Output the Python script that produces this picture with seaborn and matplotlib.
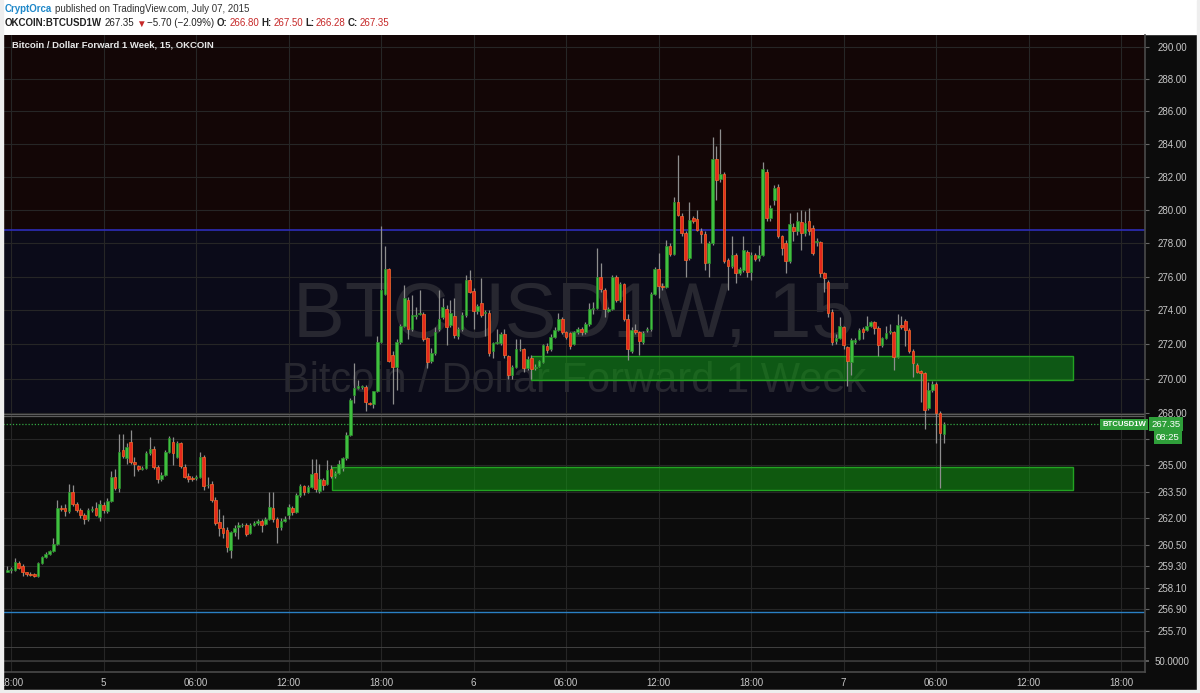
import numpy as np
import pandas as pd
import matplotlib
matplotlib.use("Agg")
import matplotlib.pyplot as plt
import matplotlib.transforms as mtransforms
from matplotlib.patches import Rectangle
from matplotlib.ticker import NullLocator, NullFormatter
import seaborn as sns

sns.set_theme(style="dark")
plt.rcParams["font.family"] = ["Liberation Sans", "DejaVu Sans"]

# ---------------- data (15-minute candles, first one at 2015-07-04 17:45) ----------------
first_candle = "2015-07-04 17:45"
opens = [
    259.0, 259.1, 259.1, 259.5, 259.3, 258.95, 258.85, 258.85, 258.75, 259.5,
    259.8, 260.0, 260.15, 260.55, 262.55, 262.55, 262.4, 263.5, 262.8, 262.45,
    262.2, 261.95, 262.45, 262.55, 262.05, 262.75, 262.4, 262.95, 264.35, 263.7,
    265.85, 265.4, 266.35, 265.2, 264.95, 264.8, 264.85, 265.7, 265.95, 264.9,
    264.2, 264.45, 265.75, 266.35, 265.5, 266.25, 264.9, 264.4, 264.3, 264.25,
    264.35, 265.5, 263.85, 263.95, 263.05, 261.8, 261.45, 261.35, 260.2, 261.2,
    261.5, 261.6, 261.6, 261.15, 261.6, 261.7, 261.85, 261.65, 261.95, 262.6,
    261.95, 261.5, 261.85, 262.15, 262.55, 262.35, 263.3, 263.8, 263.5, 263.75,
    264.55, 263.55, 264.15, 263.95, 264.8, 264.4, 264.55, 264.85, 265.4, 266.75,
    269.05, 269.45, 269.5, 269.5, 268.6, 268.55, 269.25, 272.15, 274.95, 276.45,
    271.4, 270.7, 272.15, 273.1, 274.6, 272.9, 273.65, 273.8, 273.8, 272.35,
    271.0, 271.5, 272.9, 273.6, 274.1, 273.15, 273.65, 272.5, 272.9, 273.7,
    275.8, 275.15, 273.95, 274.45, 273.85, 273.85, 271.6, 272.05, 272.1, 272.6,
    271.3, 270.2, 270.65, 271.7, 271.7, 270.6, 271.2, 270.6, 270.75, 270.95,
    271.9, 271.7, 272.45, 272.85, 273.5, 272.7, 272.65, 272.0, 272.7, 272.9,
    272.75, 273.2, 274.05, 274.15, 275.95, 275.2, 273.95, 274.1, 276.0, 274.6,
    275.55, 273.5, 271.6, 272.85, 272.7, 272.15, 272.85, 272.9, 274.95, 276.45,
    275.45, 275.4, 277.85, 277.35, 280.5, 279.65, 278.6, 277.1, 279.5, 279.45,
    278.7, 278.55, 276.8, 278.0, 283.1, 281.85, 282.2, 277.0, 276.65, 277.3,
    276.2, 276.4, 277.45, 276.25, 277.3, 277.1, 277.3, 282.3, 279.5, 280.6,
    281.4, 278.4, 278.0, 276.9, 278.95, 278.7, 279.25, 278.6, 279.3, 278.9,
    278.05, 278.05, 276.2, 275.7, 273.9, 272.2, 272.35, 273.0, 271.85, 270.95,
    272.15, 272.3, 272.9, 272.85, 273.1, 273.3, 272.95, 271.95, 272.35, 272.75,
    272.7, 271.25, 273.15, 273.35, 272.85, 271.6, 270.8, 270.45, 270.3, 268.3,
    269.35, 269.7, 268.0, 266.80,
]
highs = [
    259.3, 259.25, 259.75, 259.6, 259.4, 259.0, 258.95, 258.9, 259.55, 259.85,
    260.1, 260.2, 260.9, 263.0, 262.75, 262.8, 263.95, 263.9, 262.9, 262.55,
    262.3, 262.6, 262.7, 262.9, 263.0, 262.9, 263.15, 264.7, 264.8, 266.8,
    266.8, 266.3, 267.0, 265.5, 265.0, 264.95, 265.8, 266.6, 266.1, 265.0,
    264.6, 265.9, 266.7, 266.6, 266.4, 266.35, 265.1, 264.55, 264.4, 264.45,
    265.75, 265.6, 264.35, 264.1, 263.2, 262.5, 262.2, 261.5, 261.3, 261.6,
    261.8, 261.7, 261.7, 261.7, 261.85, 261.95, 261.95, 262.05, 263.5, 263.5,
    262.05, 262.0, 262.1, 262.8, 262.7, 263.4, 263.95, 263.9, 263.85, 265.35,
    265.35, 265.1, 264.3, 265.3, 265.0, 264.65, 265.3, 265.5, 266.9, 268.9,
    270.9, 269.9, 269.6, 269.6, 268.65, 269.3, 272.5, 279.0, 277.8, 276.5,
    271.6, 272.3, 273.2, 275.5, 274.8, 274.9, 274.2, 275.2, 273.9, 272.45,
    271.8, 273.0, 275.2, 274.7, 274.3, 274.6, 274.7, 273.0, 273.9, 276.1,
    276.4, 275.3, 274.4, 275.9, 274.0, 274.0, 272.15, 272.9, 272.7, 272.9,
    271.4, 270.8, 272.3, 272.3, 271.8, 271.3, 271.35, 270.85, 271.1, 272.0,
    272.05, 272.6, 273.0, 273.85, 273.6, 272.8, 272.75, 272.8, 273.0, 273.0,
    273.3, 274.45, 274.5, 277.7, 276.8, 275.3, 274.2, 276.1, 276.1, 275.65,
    275.6, 273.8, 273.0, 273.2, 272.8, 272.8, 273.0, 275.1, 276.6, 277.4,
    275.6, 278.2, 278.0, 280.8, 283.3, 279.8, 278.7, 280.5, 279.6, 280.0,
    278.9, 278.7, 278.1, 284.45, 283.9, 284.9, 282.3, 277.1, 278.4, 277.4,
    276.6, 278.4, 277.6, 277.45, 277.4, 277.9, 282.9, 282.5, 280.3, 281.5,
    281.55, 278.5, 278.2, 279.8, 279.2, 279.85, 280.0, 279.9, 280.1, 279.1,
    278.3, 278.15, 276.3, 275.8, 274.05, 272.6, 273.6, 273.1, 271.9, 272.35,
    272.4, 272.95, 273.0, 273.65, 273.4, 273.4, 273.05, 272.45, 273.1, 273.2,
    272.8, 273.8, 273.65, 273.5, 272.95, 271.7, 270.9, 270.5, 270.4, 269.8,
    269.85, 269.8, 268.1, 267.50,
]
lows = [
    258.95, 258.9, 259.05, 259.15, 258.75, 258.75, 258.75, 258.7, 258.7, 259.45,
    259.75, 259.95, 260.1, 260.5, 262.4, 262.1, 262.3, 262.7, 262.35, 262.0,
    261.65, 261.85, 262.35, 262.1, 261.85, 262.3, 262.3, 262.9, 263.6, 263.5,
    265.4, 265.1, 265.1, 264.4, 264.7, 264.75, 264.8, 265.6, 264.8, 264.0,
    264.1, 264.4, 265.7, 265.0, 265.4, 264.85, 264.25, 264.05, 264.1, 264.15,
    264.3, 263.6, 263.7, 262.9, 261.6, 261.0, 260.9, 260.1, 259.75, 261.0,
    260.8, 261.5, 261.0, 261.1, 261.55, 261.6, 261.2, 261.6, 261.9, 261.8,
    260.6, 261.35, 261.8, 261.95, 262.2, 262.3, 263.2, 263.3, 263.45, 263.7,
    263.5, 263.4, 263.6, 263.9, 264.3, 264.3, 264.5, 264.7, 265.3, 266.7,
    268.6, 269.4, 269.4, 268.1, 268.45, 268.3, 269.2, 272.1, 274.9, 270.95,
    268.55, 269.35, 272.0, 273.0, 272.3, 272.8, 273.5, 273.7, 272.2, 270.6,
    270.9, 271.4, 272.8, 273.5, 271.95, 273.0, 272.4, 272.3, 272.8, 273.6,
    275.0, 272.9, 273.8, 273.6, 272.5, 271.3, 271.2, 272.0, 271.95, 271.2,
    269.95, 270.0, 270.6, 271.6, 270.4, 270.5, 269.95, 270.5, 270.7, 270.9,
    271.5, 271.6, 272.4, 272.8, 272.6, 272.3, 271.7, 271.95, 272.6, 272.55,
    272.6, 273.1, 273.8, 274.1, 275.1, 273.6, 273.9, 274.0, 274.5, 274.5,
    273.4, 271.1, 271.5, 272.6, 271.4, 272.0, 272.75, 272.8, 274.9, 274.7,
    275.2, 275.3, 277.2, 277.3, 279.6, 278.4, 276.0, 277.0, 279.2, 278.7,
    278.0, 276.4, 276.0, 277.9, 280.6, 281.7, 276.8, 275.2, 276.5, 275.6,
    276.1, 276.3, 276.0, 275.8, 276.95, 276.9, 277.2, 279.3, 279.3, 280.3,
    278.3, 277.3, 276.2, 276.8, 278.1, 278.5, 277.6, 278.4, 278.5, 277.3,
    277.8, 276.0, 275.1, 273.6, 271.95, 272.0, 272.3, 271.7, 269.55, 270.2,
    272.0, 272.25, 272.3, 272.8, 273.0, 272.6, 271.3, 271.85, 272.3, 272.6,
    270.5, 271.2, 272.9, 271.9, 271.5, 270.1, 270.3, 268.65, 267.1, 268.2,
    269.2, 266.3, 263.7, 266.28,
]
closes = [
    259.1, 259.1, 259.55, 259.2, 258.95, 258.85, 258.8, 258.75, 259.5, 259.8,
    260.0, 260.15, 260.55, 262.55, 262.5, 262.4, 263.5, 262.8, 262.45, 262.2,
    261.95, 262.45, 262.5, 262.2, 262.8, 262.45, 262.95, 264.35, 263.7, 265.75,
    265.55, 266.05, 265.2, 265.1, 264.8, 264.85, 265.7, 265.95, 264.9, 264.2,
    264.45, 265.75, 266.55, 265.7, 266.25, 264.95, 264.35, 264.2, 264.2, 264.35,
    265.5, 263.8, 263.9, 263.05, 261.75, 261.45, 261.15, 260.35, 261.2, 261.45,
    261.6, 261.62, 261.1, 261.6, 261.7, 261.85, 261.6, 261.95, 262.65, 261.95,
    261.5, 261.85, 261.95, 262.65, 262.35, 263.3, 263.8, 263.5, 263.75, 264.5,
    263.65, 264.2, 263.9, 264.75, 264.4, 264.55, 265.05, 265.4, 266.75, 268.75,
    269.45, 269.55, 269.52, 268.65, 268.55, 269.25, 272.15, 275.2, 276.45, 271.05,
    270.7, 272.15, 273.05, 274.7, 272.9, 273.7, 273.75, 273.8, 272.3, 270.95,
    271.5, 272.75, 273.5, 274.2, 273.0, 273.85, 272.55, 272.9, 273.7, 275.8,
    275.1, 273.95, 274.25, 273.75, 273.9, 271.5, 272.05, 272.15, 272.6, 271.4,
    270.2, 270.65, 271.7, 271.75, 270.6, 271.15, 270.55, 270.7, 271.0, 271.95,
    271.65, 272.45, 272.85, 273.5, 272.7, 272.45, 271.9, 272.7, 272.9, 272.7,
    273.2, 274.1, 274.15, 276.0, 275.25, 274.05, 274.1, 276.0, 274.6, 275.55,
    273.5, 271.75, 272.85, 272.7, 272.2, 272.65, 272.9, 274.95, 276.45, 275.45,
    275.4, 277.85, 277.35, 280.5, 279.7, 278.6, 277.0, 279.4, 279.35, 278.8,
    278.55, 276.8, 278.0, 283.1, 281.8, 282.2, 276.95, 276.65, 277.3, 276.2,
    276.45, 277.6, 276.3, 277.3, 277.05, 277.3, 282.5, 279.5, 280.1, 281.35,
    278.4, 277.7, 276.9, 279.15, 278.75, 279.3, 278.6, 279.2, 278.7, 277.4,
    278.15, 276.2, 275.9, 273.85, 272.15, 272.35, 273.05, 271.95, 271.0, 272.25,
    272.25, 272.85, 272.75, 273.1, 273.3, 272.95, 271.95, 272.35, 272.65, 272.8,
    271.25, 273.15, 273.0, 272.85, 271.6, 270.9, 270.4, 270.3, 268.2, 269.35,
    269.7, 268.0, 266.85, 267.35,
]

price_ticks = [290.00, 288.00, 286.00, 284.00, 282.00, 280.00, 278.00, 276.00, 274.00,
               272.00, 270.00, 268.00, 266.50, 265.00, 263.50, 262.00, 260.50, 259.30,
               258.10, 256.90, 255.70]
hidden_price_labels = [266.50]   # covered by the countdown box in the reference
time_ticks = ["2015-07-04 18:00", "2015-07-05 00:00", "2015-07-05 06:00", "2015-07-05 12:00",
              "2015-07-05 18:00", "2015-07-06 00:00", "2015-07-06 06:00", "2015-07-06 12:00",
              "2015-07-06 18:00", "2015-07-07 00:00", "2015-07-07 06:00", "2015-07-07 12:00",
              "2015-07-07 18:00"]
time_labels = ["18:00", "5", "06:00", "12:00", "18:00", "6", "06:00", "12:00", "18:00",
               "7", "06:00", "12:00", "18:00"]

# drawn levels / zones (prices) and their start / end times
upper_zone_prices = [269.9, 271.3]
upper_zone_start = "2015-07-06 03:45"
lower_zone_prices = [263.6, 264.9]
lower_zone_start = "2015-07-05 14:50"
zones_end = "2015-07-07 14:54"
resistance_level = 278.79
support_level = 256.75
band_levels = [267.97, 267.82]
oscillator_level = 50.0

# ---------------- figure ----------------
W, H = 1200, 693
fig = plt.figure(figsize=(W / 100, H / 100), dpi=100, facecolor="#0c0c0c")


def fx(px):
    return px / W


def fy(py):
    return 1 - py / H


ax = fig.add_axes([fx(3), fy(648), fx(1145) - fx(3), fy(35) - fy(648)])
ax2 = fig.add_axes([fx(3), fy(672), fx(1145) - fx(3), fy(648) - fy(672)], sharex=ax)

t_ref = pd.Timestamp("2015-07-04 18:00")
step = pd.Timedelta("15min")
times = pd.date_range(first_candle, periods=len(closes), freq="15min")
df = pd.DataFrame({"time": times, "open": opens, "high": highs, "low": lows, "close": closes})
df["x"] = (df["time"] - t_ref) / step


def tx(s):
    return (pd.Timestamp(s) - t_ref) / step


for a in (ax, ax2):
    a.set_facecolor("#0c0c0c")
    a.set_axisbelow(True)
    a.grid(True, color="#262626", lw=0.8)
    for s in ("left", "top"):
        a.spines[s].set_visible(False)
    for s in ("right", "bottom"):
        a.spines[s].set_visible(True)
        a.spines[s].set_color("#4a4a4a")
        a.spines[s].set_linewidth(1.2)

ax.set_yscale("log")
ymin, ymax = 254.77, 290.75
ax.set_ylim(ymin, ymax)
ax.set_xlim(-2.1, 294.2)

# background zones
ax.axhspan(resistance_level, 300, color="#130606", lw=0, zorder=0)
ax.axhspan(band_levels[0], resistance_level, color="#0b0b19", lw=0, zorder=0)

# watermark
wm_color = "#272730"
ax.text(0.5, 0.54, "BTCUSD1W, 15", transform=ax.transAxes, ha="center", va="center",
        fontsize=56, color=wm_color, zorder=1.2)
ax.text(0.5, 0.436, "Bitcoin / Dollar Forward 1 Week", transform=ax.transAxes, ha="center",
        va="center", fontsize=30, color=wm_color, zorder=1.2)

# horizontal levels
ax.axhline(resistance_level, color="#2d2db8", lw=1.2, zorder=1.5)
ax.axhline(support_level, color="#2a80c4", lw=1.0, zorder=1.5)
for lv in band_levels:
    ax.axhline(lv, color="#5c5c5c", lw=0.9, zorder=1.5)

# green zones
x_end = tx(zones_end)
for start, (p0, p1) in ((upper_zone_start, upper_zone_prices), (lower_zone_start, lower_zone_prices)):
    x0 = tx(start)
    ax.add_patch(Rectangle((x0, p0), x_end - x0, p1 - p0, facecolor=(0.07, 0.6, 0.07, 0.55),
                           edgecolor="#22a322", lw=1.0, zorder=2))

# current price line
ax.axhline(df["close"].iloc[-1], color="#33a843", lw=0.9, ls=(0, (1, 1.5)), zorder=2.5)

# candles
up = df["close"] >= df["open"]
ax.vlines(df["x"], df["low"], df["high"], color="#8e8e8e", lw=0.9, zorder=3)
body_lo = np.minimum(df["open"], df["close"])
body_h = np.maximum((df["close"] - df["open"]).abs(), 0.04)
ax.bar(df["x"][up], body_h[up], bottom=body_lo[up], width=0.68, color="#3fc03f",
       edgecolor="#2b8c2b", lw=0.5, zorder=4)
ax.bar(df["x"][~up], body_h[~up], bottom=body_lo[~up], width=0.68, color="#e6281c",
       edgecolor="#f46a2a", lw=0.5, zorder=4)
ax.set_ylim(ymin, ymax)

# axes ticks
ax.yaxis.tick_right()
ax.yaxis.set_minor_locator(NullLocator())
ax.yaxis.set_minor_formatter(NullFormatter())
ax.set_yticks(price_ticks)
ax.set_yticklabels(["" if v in hidden_price_labels else f"{v:.2f}" for v in price_ticks])
ax.tick_params(axis="y", colors="#c8c8c8", labelsize=7, length=3, width=0.8, pad=6,
               right=True, left=False)
ax.tick_params(axis="y", color="#666666")
xt = [tx(t) for t in time_ticks]
ax.set_xticks(xt)
ax.tick_params(axis="x", labelbottom=False, length=0, bottom=False)

ax2.set_ylim(28, 74)
ax2.yaxis.tick_right()
ax2.set_yticks([oscillator_level])
ax2.set_yticklabels([f"{oscillator_level:.4f}"])
ax2.tick_params(axis="y", colors="#c8c8c8", labelsize=7, length=3, pad=4, right=True, left=False)
ax2.tick_params(axis="y", color="#666666")
ax2.axhline(oscillator_level, color="#3a3a3a", lw=1.2, zorder=1)
ax2.set_xticks(xt)
ax2.set_xticklabels(time_labels)
ax2.tick_params(axis="x", colors="#c8c8c8", labelsize=7, length=0, pad=4, bottom=True)
clip = mtransforms.TransformedBbox(mtransforms.Bbox([[fx(3), 0], [1, 1]]), fig.transFigure)
for lbl in ax2.get_xticklabels():
    lbl.set_clip_on(True)
    lbl.set_clip_box(clip)

# legend-like title
ax.text(0.0079, 0.984, "Bitcoin / Dollar Forward 1 Week, 15, OKCOIN", transform=ax.transAxes,
        ha="left", va="center", fontsize=6.8, fontweight="bold", color="#e8e8e8", zorder=8)

# price label boxes on the right
last = df["close"].iloc[-1]
blend = mtransforms.blended_transform_factory(fig.transFigure, ax.transData)
ax.text(fx(1124), last, "BTCUSD1W", transform=blend, ha="center", va="center", fontsize=5.6,
        color="white", fontweight="bold", zorder=10, clip_on=False,
        bbox=dict(boxstyle="square,pad=0.25", fc="#2f9f3a", ec="none"))
ax.text(fx(1166), last, f"{last:.2f}", transform=blend, ha="center", va="center", fontsize=6.8,
        color="white", zorder=10, clip_on=False,
        bbox=dict(boxstyle="square,pad=0.25", fc="#2f9f3a", ec="none"))
fig.text(fx(1168), fy(437.5), "08:25", ha="center", va="center", fontsize=6.8, color="white",
         zorder=10, bbox=dict(boxstyle="square,pad=0.25", fc="#2f9f3a", ec="none"))

# white header and borders
fig.add_artist(Rectangle((0, fy(34)), 1, 34 / H, transform=fig.transFigure, color="white", zorder=0))
fig.add_artist(Rectangle((0, 0), fx(3), 1, transform=fig.transFigure, color="#eeeeee", zorder=20))
fig.add_artist(Rectangle((fx(1197), 0), fx(3), 1, transform=fig.transFigure, color="#eeeeee", zorder=20))
fig.add_artist(Rectangle((0, 0), 1, 3 / H, transform=fig.transFigure, color="#eeeeee", zorder=20))

fig.canvas.draw()
renderer = fig.canvas.get_renderer()


def chain(pieces, x0, yc, size, gap=2):
    x = x0
    for txt, color, weight in pieces:
        t = fig.text(fx(x), fy(yc), txt, ha="left", va="center", fontsize=size, color=color,
                     fontweight=weight, zorder=25)
        bb = t.get_window_extent(renderer)
        x += bb.width + gap


red = "#c62828"
dark = "#222222"
chain([("CryptOrca", "#1f88c9", "bold"),
       ("published on TradingView.com, July 07, 2015", "#333333", "normal")], 5, 9.5, 7.0, gap=3)
chain([("OKCOIN:BTCUSD1W", dark, "bold"), ("267.35", dark, "normal"), ("\u25bc", red, "normal"),
       ("\u22125.70 (\u22122.09%)", dark, "normal"), ("O:", dark, "bold"), ("266.80", red, "normal"),
       ("H:", dark, "bold"), ("267.50", red, "normal"), ("L:", dark, "bold"), ("266.28", red, "normal"),
       ("C:", dark, "bold"), ("267.35", red, "normal")], 5, 23.5, 7.0)

fig.savefig("out.png", dpi=100, facecolor=fig.get_facecolor())
